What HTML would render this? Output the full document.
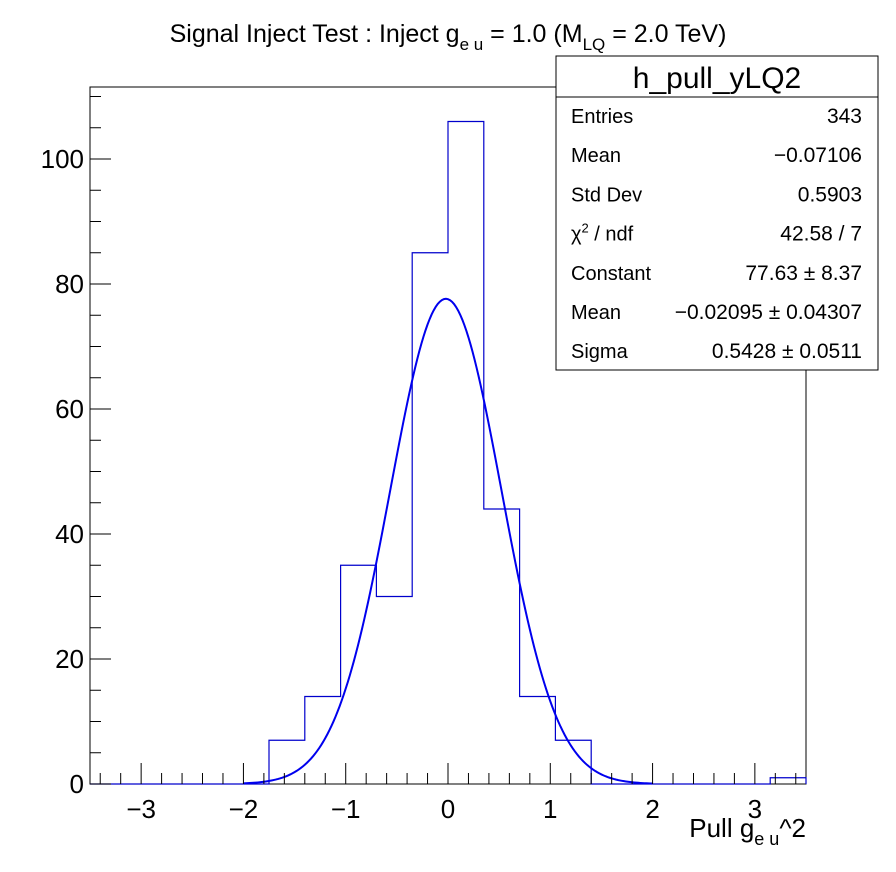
<!DOCTYPE html>
<html><head><meta charset="utf-8"><style>
body{margin:0;background:#fff;}
svg{display:block;font-family:"Liberation Sans",sans-serif;}
</style></head><body>
<svg id="c" width="896" height="872"></svg>
<script>
const binEdgesStart = -3.5;
const binWidth = 0.35;
const binCounts = [0,0,0,0,0,7,14,35,30,85,106,44,14,7,0,0,0,0,0,1];
const xTicks = [-3,-2,-1,0,1,2,3];
const yTicks = [0,20,40,60,80,100];
const fitParams = [77.63, -0.02095, 0.5428];
const statsLabels = ["Entries","Mean","Std Dev","χ² / ndf","Constant","Mean","Sigma"];
const statsValues = ["343","−0.07106","0.5903","42.58 / 7","77.63 ± 8.37","−0.02095 ± 0.04307","0.5428 ± 0.0511"];

const NS="http://www.w3.org/2000/svg";
const svg=document.getElementById('c');
const L=90,R=806,T=87,B=784;
const X=v=>L+(v+3.5)/7*(R-L);
const Y=v=>B-v*6.25;
function mk(tag,attrs,parent){const e=document.createElementNS(NS,tag);for(const k in attrs)e.setAttribute(k,attrs[k]);(parent||svg).appendChild(e);return e;}

const frame=mk('rect',{x:L,y:T,width:R-L,height:B-T,fill:'none',stroke:'#000','stroke-width':1});



let d=`M${X(binEdgesStart)},${Y(0)}`;
binCounts.forEach((c,i)=>{const x0=X(binEdgesStart+i*binWidth),x1=X(binEdgesStart+(i+1)*binWidth);d+=` L${x0},${Y(c)} L${x1},${Y(c)}`;});
d+=` L${X(3.5)},${Y(0)}`;
const h=mk('path',{d:d,fill:'none',stroke:'#0000cc','stroke-width':1.2});



let fd='';
for(let i=0;i<=200;i++){const x=-2+4*i/200;const y=fitParams[0]*Math.exp(-0.5*Math.pow((x-fitParams[1])/fitParams[2],2));fd+=(i?' L':'M')+X(x).toFixed(2)+','+Y(y).toFixed(2);}
const f=mk('path',{d:fd,fill:'none',stroke:'#0000ee','stroke-width':2});



for(let v=-3.4;v<=3.41;v+=0.2){const vv=Math.round(v*10)/10;const major=Math.abs(vv-Math.round(vv))<1e-6;mk('line',{x1:X(vv),x2:X(vv),y1:B,y2:B-(major?21:11),stroke:'#000'});}
xTicks.forEach(t=>{const e=mk('text',{x:X(t),y:B+34,'font-size':26,'text-anchor':'middle'});e.textContent=t<0?'−'+(-t):t;

});
for(let v=0;v<=110;v+=5){const major=v%20===0;mk('line',{x1:L,x2:L+(major?21:11),y1:Y(v),y2:Y(v),stroke:'#000'});}
yTicks.forEach(t=>{const e=mk('text',{x:L-6,y:Y(t)+9,'font-size':26,'text-anchor':'end'});e.textContent=t;

});

const tt=mk('text',{x:448,y:42,'font-size':25,'text-anchor':'middle'});
tt.innerHTML='Signal Inject Test : Inject g<tspan dy="8" font-size="17">e u</tspan><tspan dy="-8"> = 1.0 (M</tspan><tspan dy="8" font-size="17">LQ</tspan><tspan dy="-8"> = 2.0 TeV)</tspan>';


const xt=mk('text',{x:806,y:837,'font-size':26,'text-anchor':'end'});
xt.innerHTML='Pull g<tspan dy="8" font-size="18">e u</tspan><tspan dy="-8">^2</tspan>';



const g=mk('g',{});


mk('rect',{x:556,y:56,width:322,height:314,fill:'#fff',stroke:'#000'},g);
mk('line',{x1:556,x2:878,y1:97,y2:97,stroke:'#000'},g);
const st=mk('text',{x:717,y:88,'font-size':30,'text-anchor':'middle'},g);st.textContent='h_pull_yLQ2';
statsLabels.forEach((l,i)=>{const y=123+i*39.2;
const a=mk('text',{x:571,y:y,'font-size':20},g);
if(l.startsWith('χ'))a.innerHTML='χ<tspan dy="-8" font-size="13">2</tspan><tspan dy="8"> / ndf</tspan>';else a.textContent=l;
const b=mk('text',{x:862,y:y,'font-size':21,'text-anchor':'end'},g);b.textContent=statsValues[i];});
</script>
</body></html>
